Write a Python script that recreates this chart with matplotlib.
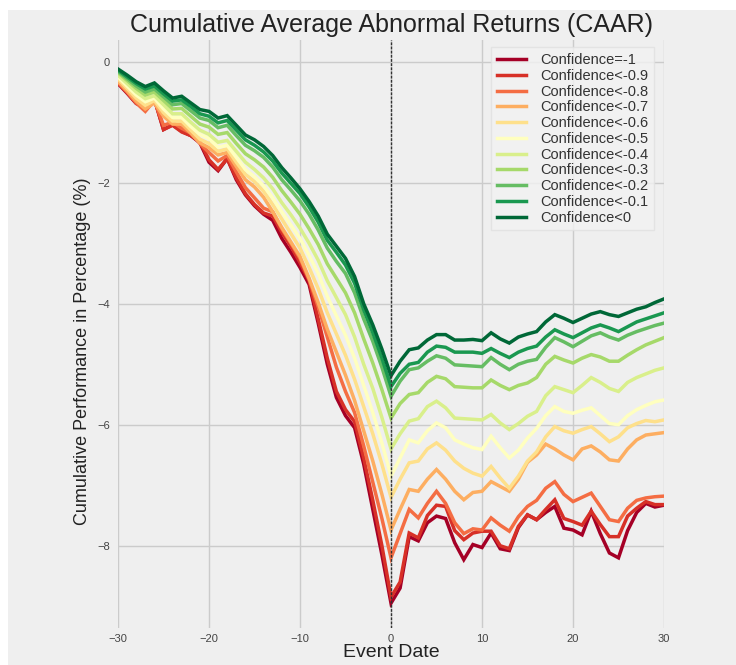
import numpy as np
import matplotlib
matplotlib.use("Agg")
import matplotlib.pyplot as plt
from matplotlib.patches import Rectangle

plt.rcParams['font.family'] = ['Liberation Sans', 'DejaVu Sans']

# event window
days = np.arange(-30, 31)

labels = ['Confidence=-1', 'Confidence<-0.9', 'Confidence<-0.8', 'Confidence<-0.7',
          'Confidence<-0.6', 'Confidence<-0.5', 'Confidence<-0.4', 'Confidence<-0.3',
          'Confidence<-0.2', 'Confidence<-0.1', 'Confidence<0']
colors = ['#a50026', '#d73027', '#f46d43', '#fdae61', '#fee08b', '#ffffbf',
          '#d9ef8b', '#a6d96a', '#66bd63', '#1a9850', '#006837']

# CAAR in %, day -30 .. day 30
caar_m10 = [-0.36, -0.52, -0.69, -0.76, -0.62, -1.12, -1.04, -1.15, -1.22, -1.34, -1.66,
            -1.80, -1.60, -1.95, -2.20, -2.38, -2.52, -2.62, -2.92, -3.15, -3.40,
            -3.68, -4.32, -5.00, -5.55, -5.85, -6.05, -6.65, -7.40, -8.15, -8.95,
            -8.70, -7.85, -7.92, -7.62, -7.51, -7.55, -7.95, -8.23, -7.98, -8.03,
            -7.79, -8.05, -8.08, -7.70, -7.49, -7.57, -7.45, -7.35, -7.71, -7.74,
            -7.82, -7.43, -7.80, -8.12, -8.20, -7.75, -7.45, -7.30, -7.36, -7.33]
caar_m09 = [-0.35, -0.51, -0.68, -0.76, -0.62, -1.12, -1.05, -1.16, -1.22, -1.32, -1.62,
            -1.78, -1.60, -1.92, -2.18, -2.36, -2.50, -2.55, -2.82, -3.05, -3.32,
            -3.62, -4.25, -4.90, -5.45, -5.75, -5.95, -6.55, -7.25, -8.00, -8.85,
            -8.60, -7.79, -7.87, -7.50, -7.33, -7.35, -7.75, -7.90, -7.79, -7.76,
            -7.76, -8.00, -8.05, -7.68, -7.49, -7.57, -7.40, -7.24, -7.55, -7.60,
            -7.66, -7.43, -7.65, -7.85, -7.85, -7.51, -7.38, -7.27, -7.32, -7.32]
caar_m08 = [-0.34, -0.50, -0.68, -0.82, -0.64, -1.05, -1.00, -1.10, -1.18, -1.35, -1.50,
            -1.64, -1.55, -1.82, -2.08, -2.25, -2.42, -2.48, -2.76, -3.00, -3.25,
            -3.60, -4.05, -4.55, -5.05, -5.45, -5.80, -6.35, -6.95, -7.55, -8.20,
            -7.80, -7.40, -7.54, -7.30, -7.10, -7.30, -7.62, -7.80, -7.72, -7.74,
            -7.54, -7.66, -7.76, -7.52, -7.35, -7.25, -7.05, -6.94, -7.15, -7.27,
            -7.20, -7.13, -7.35, -7.57, -7.60, -7.38, -7.25, -7.21, -7.19, -7.18]
caar_m07 = [-0.32, -0.48, -0.65, -0.78, -0.68, -0.90, -1.03, -1.03, -1.18, -1.34, -1.42,
            -1.54, -1.50, -1.73, -1.95, -2.07, -2.24, -2.48, -2.74, -2.98, -3.22,
            -3.58, -3.98, -4.42, -4.80, -5.18, -5.60, -6.10, -6.60, -7.15, -7.74,
            -7.40, -7.07, -7.10, -6.90, -6.74, -6.90, -7.10, -7.24, -7.12, -7.10,
            -6.94, -7.02, -7.10, -6.90, -6.62, -6.50, -6.32, -6.40, -6.50, -6.58,
            -6.40, -6.35, -6.45, -6.58, -6.60, -6.40, -6.25, -6.17, -6.15, -6.13]
caar_m06 = [-0.28, -0.44, -0.60, -0.72, -0.64, -0.84, -0.98, -0.98, -1.13, -1.28, -1.35,
            -1.48, -1.44, -1.66, -1.86, -1.98, -2.14, -2.36, -2.60, -2.84, -3.08,
            -3.40, -3.75, -4.15, -4.50, -4.85, -5.25, -5.70, -6.15, -6.65, -7.20,
            -6.90, -6.63, -6.60, -6.40, -6.30, -6.42, -6.60, -6.72, -6.80, -6.85,
            -6.69, -6.88, -7.05, -6.85, -6.60, -6.45, -6.20, -6.03, -6.10, -6.14,
            -6.08, -6.03, -6.15, -6.28, -6.20, -6.05, -5.98, -5.93, -5.95, -5.92]
caar_m05 = [-0.25, -0.40, -0.55, -0.66, -0.60, -0.78, -0.92, -0.92, -1.07, -1.20, -1.27,
            -1.41, -1.38, -1.58, -1.78, -1.90, -2.05, -2.25, -2.48, -2.70, -2.92,
            -3.20, -3.50, -3.88, -4.20, -4.52, -4.90, -5.35, -5.80, -6.30, -6.85,
            -6.55, -6.25, -6.30, -6.10, -5.97, -6.05, -6.25, -6.32, -6.38, -6.41,
            -6.19, -6.38, -6.55, -6.42, -6.22, -6.06, -5.85, -5.70, -5.78, -5.81,
            -5.76, -5.72, -5.85, -5.98, -6.00, -5.85, -5.75, -5.68, -5.62, -5.59]
caar_m04 = [-0.22, -0.36, -0.50, -0.61, -0.56, -0.71, -0.86, -0.86, -1.00, -1.13, -1.20,
            -1.33, -1.30, -1.48, -1.66, -1.78, -1.92, -2.10, -2.33, -2.53, -2.75,
            -3.00, -3.28, -3.62, -3.90, -4.18, -4.55, -5.00, -5.40, -5.88, -6.40,
            -6.15, -5.94, -5.90, -5.70, -5.61, -5.72, -5.89, -5.90, -5.91, -5.92,
            -5.83, -5.97, -6.08, -5.98, -5.86, -5.78, -5.52, -5.37, -5.42, -5.47,
            -5.35, -5.22, -5.30, -5.40, -5.45, -5.30, -5.22, -5.16, -5.10, -5.06]
caar_m03 = [-0.18, -0.31, -0.44, -0.55, -0.50, -0.64, -0.78, -0.77, -0.90, -1.03, -1.08,
            -1.20, -1.17, -1.35, -1.52, -1.62, -1.74, -1.91, -2.13, -2.32, -2.52,
            -2.76, -3.02, -3.34, -3.58, -3.82, -4.15, -4.58, -4.98, -5.42, -5.89,
            -5.65, -5.50, -5.47, -5.30, -5.20, -5.24, -5.37, -5.38, -5.39, -5.39,
            -5.26, -5.35, -5.42, -5.35, -5.31, -5.22, -5.00, -4.87, -4.93, -4.98,
            -4.90, -4.84, -4.88, -4.95, -4.95, -4.85, -4.76, -4.68, -4.62, -4.56]
caar_m02 = [-0.16, -0.28, -0.40, -0.50, -0.45, -0.58, -0.71, -0.69, -0.81, -0.93, -0.97,
            -1.09, -1.05, -1.22, -1.38, -1.47, -1.58, -1.74, -1.95, -2.12, -2.30,
            -2.52, -2.78, -3.08, -3.30, -3.50, -3.82, -4.25, -4.62, -5.05, -5.53,
            -5.28, -5.09, -5.06, -4.95, -4.86, -4.90, -5.01, -5.02, -5.03, -5.04,
            -4.89, -5.00, -5.09, -5.00, -4.95, -4.92, -4.72, -4.56, -4.63, -4.71,
            -4.62, -4.53, -4.48, -4.55, -4.60, -4.52, -4.46, -4.41, -4.36, -4.32]
caar_m01 = [-0.14, -0.25, -0.36, -0.45, -0.40, -0.53, -0.65, -0.63, -0.74, -0.86, -0.90,
            -1.01, -0.97, -1.13, -1.29, -1.38, -1.49, -1.64, -1.84, -2.01, -2.18,
            -2.40, -2.65, -2.95, -3.15, -3.36, -3.66, -4.10, -4.48, -4.90, -5.37,
            -5.15, -5.00, -4.97, -4.80, -4.70, -4.72, -4.80, -4.80, -4.80, -4.82,
            -4.74, -4.82, -4.89, -4.80, -4.74, -4.70, -4.55, -4.43, -4.50, -4.56,
            -4.48, -4.40, -4.35, -4.40, -4.46, -4.38, -4.30, -4.25, -4.20, -4.15]
caar_00 = [-0.12, -0.22, -0.33, -0.41, -0.35, -0.48, -0.60, -0.57, -0.68, -0.79, -0.82,
           -0.93, -0.89, -1.05, -1.21, -1.29, -1.40, -1.55, -1.75, -1.92, -2.10,
           -2.31, -2.55, -2.85, -3.05, -3.25, -3.55, -4.00, -4.35, -4.75, -5.19,
           -4.95, -4.76, -4.73, -4.60, -4.51, -4.51, -4.60, -4.60, -4.59, -4.61,
           -4.48, -4.58, -4.65, -4.55, -4.50, -4.46, -4.30, -4.18, -4.24, -4.31,
           -4.24, -4.17, -4.13, -4.18, -4.21, -4.15, -4.09, -4.05, -3.98, -3.92]

series = [caar_m10, caar_m09, caar_m08, caar_m07, caar_m06, caar_m05,
          caar_m04, caar_m03, caar_m02, caar_m01, caar_00]

fig = plt.figure(figsize=(7.36, 6.65), dpi=100)
fig.patch.set_facecolor('white')
# grey panel with a thin white margin around it
fig.patches.append(Rectangle((8 / 736, 0), 1, 1 - 10 / 665,
                             transform=fig.transFigure, facecolor='#efefef',
                             edgecolor='none', zorder=-10))

ax = fig.add_axes([118 / 736, 1 - 628 / 665, 546 / 736, 588 / 665])
ax.set_facecolor('#efefef')
for s in ax.spines.values():
    s.set_visible(False)

for vals, lab, col in zip(series, labels, colors):
    ax.plot(days, vals, color=col, lw=2.5, label=lab, solid_joinstyle='miter')

ax.axvline(0, color='#333333', lw=1.0, ls=(0, (2, 1)), zorder=5)

ax.set_xlim(-30, 30)
ax.set_ylim(-9.36, 0.36)
ax.set_xticks([-30, -20, -10, 0, 10, 20, 30])
ax.set_yticks([-8, -6, -4, -2, 0])
ax.grid(True, color='#cbcbcb', lw=1)
ax.set_axisbelow(True)
ax.tick_params(length=0, labelsize=8, labelcolor='#444444')
ax.tick_params(axis='x', pad=4)
ax.tick_params(axis='y', pad=6)

ax.set_title('Cumulative Average Abnormal Returns (CAAR)', fontsize=18,
             color='#222222', pad=6)
ax.set_xlabel('Event Date', fontsize=14, color='#222222', labelpad=0.5)
ax.set_ylabel('Cumulative Performance in Percentage (%)', fontsize=13,
              color='#222222')
ax.yaxis.set_label_coords(-0.05, 0.47)

leg = ax.legend(loc='upper right', fontsize=10.5, labelspacing=0.12,
                handlelength=2.0, handletextpad=0.95, borderaxespad=0.3,
                frameon=True, fancybox=False, bbox_to_anchor=(0.99, 0.995))
leg.get_frame().set_facecolor('#f2f2f2')
leg.get_frame().set_edgecolor('#e0e0e0')
for t in leg.get_texts():
    t.set_color('#333333')

fig.savefig('out.png', dpi=100)
